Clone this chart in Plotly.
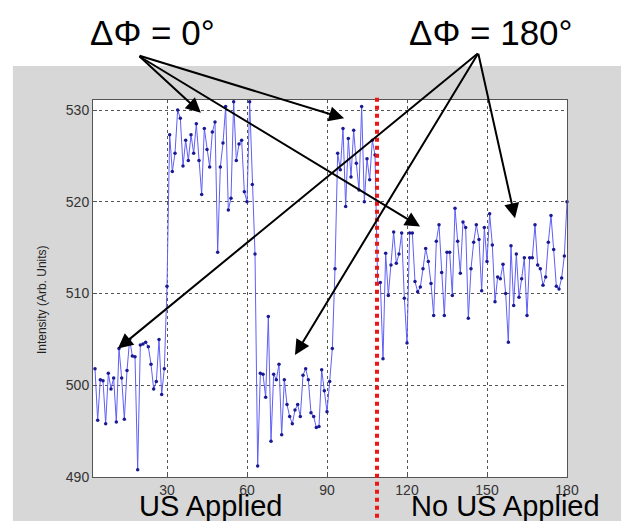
import plotly.graph_objects as go

# ---- data ----
x_start = 3
intensity = [
    501.8, 496.2, 500.6, 500.5, 495.8, 501.3, 499.6, 500.8, 496.0, 504.0,
    500.8, 496.3, 501.6, 505.0, 503.2, 503.1, 490.8, 504.4, 504.5, 504.7,
    504.2, 502.3, 499.6, 500.4, 505.0, 499.0, 501.8,
    510.8, 527.3,
    523.3, 525.3, 530.0, 529.1, 523.9, 526.7, 524.5, 527.3, 525.3, 528.5,
    524.5, 520.8, 528.0, 525.7, 523.8, 527.6, 528.7, 514.5, 523.8, 526.4,
    530.4, 519.1, 520.4, 530.9, 524.5, 526.3, 526.7, 521.1, 520.0,
    530.9, 521.9, 514.3, 491.2, 501.3, 501.2, 498.7, 507.5, 493.9, 501.2,
    500.6, 502.3, 494.6, 500.6, 497.9, 496.6, 495.8, 497.3, 497.9, 496.6,
    501.1, 501.8, 500.6, 497.0, 496.6, 495.4, 495.5, 501.7, 499.4, 497.1,
    500.4, 504.0, 512.7, 525.3, 523.5, 528.0, 519.5, 526.9, 522.7, 527.8,
    524.2, 521.3, 530.4, 520.0, 524.7, 522.4, 526.7, 525.1,
    511.1, 511.2, 502.9, 514.4, 509.8, 513.1, 516.7, 513.3, 514.3, 516.6,
    509.5, 504.6, 516.6, 516.6, 511.3, 510.2, 510.7, 512.7, 514.9, 513.5,
    511.1, 507.6, 515.7, 517.5, 512.3, 507.6, 514.5, 514.5, 509.8, 519.3,
    515.7, 512.2, 517.8, 517.2, 507.3, 512.7, 515.6, 517.5, 515.9, 510.3,
    517.2, 513.5, 518.7, 515.3, 509.1, 511.8, 511.6, 513.2, 510.0, 504.7,
    515.2, 508.7, 514.3, 509.6, 511.6, 513.9, 507.6, 513.9, 513.9, 517.5,
    513.1, 512.7, 510.9, 511.8, 515.6, 518.5, 514.8, 510.8, 510.5, 511.7,
    514.1, 520.0,
]
time = list(range(x_start, x_start + len(intensity)))

x_ticks = [30, 60, 90, 120, 150, 180]
y_ticks = [490, 500, 510, 520, 530]
x_range = [2.25, 180]
y_range = [490, 531.1]
switch_x = 108.75  # US on / off boundary

label_phase0 = "ΔΦ = 0°"
label_phase180 = "ΔΦ = 180°"
label_us = "US Applied"
label_nous = "No US Applied"
y_title = "Intensity (Arb. Units)"

# arrow heads (data coords) and tail offsets (pixels)
arrows_phase0 = [(42.7, 529.7, -63, -58), (96.4, 529.1, -206, -63), (124.9, 517.3, -282, -171)]
arrows_phase180 = [(11.6, 504.0, 361, -296), (78.0, 503.3, 184, -303), (160.5, 518.2, -37, -166)]

FONT = "Liberation Sans, Arial, sans-serif"

fig = go.Figure()
fig.add_trace(go.Scatter(
    x=time, y=intensity, mode="lines+markers",
    line=dict(color="rgb(95,95,245)", width=1),
    marker=dict(size=3.5, color="rgb(25,25,150)"),
    showlegend=False, hoverinfo="skip", cliponaxis=False,
))

shapes = [
    # grey panel
    dict(type="rect", xref="paper", yref="paper", x0=-0.169, x1=1.1245, y0=-0.2, y1=1.09,
         fillcolor="#d7d7d7", line=dict(width=0), layer="below"),
    # white plotting area
    dict(type="rect", xref="paper", yref="paper", x0=0, x1=1, y0=0, y1=1,
         fillcolor="white", line=dict(width=0), layer="below"),
    # red dotted boundary line
    dict(type="line", xref="x", yref="paper", x0=switch_x, x1=switch_x, y0=1.006, y1=-0.15,
         line=dict(color="rgb(240,20,20)", width=4, dash="4px,4px")),
]

annotations = [
    dict(text=label_phase0, xref="paper", yref="paper", x=0.1245, y=1.18, showarrow=False,
         xanchor="center", yanchor="middle", font=dict(family=FONT, size=35, color="black")),
    dict(text=label_phase180, xref="paper", yref="paper", x=0.8397, y=1.18, showarrow=False,
         xanchor="center", yanchor="middle", font=dict(family=FONT, size=35, color="black")),
    dict(text=label_us, xref="paper", yref="paper", x=0.249, y=-0.076, showarrow=False,
         xanchor="center", yanchor="middle", font=dict(family=FONT, size=29, color="black")),
    dict(text=label_nous, xref="paper", yref="paper", x=0.870, y=-0.076, showarrow=False,
         xanchor="center", yanchor="middle", font=dict(family=FONT, size=29, color="black")),
    dict(text=y_title, xref="paper", yref="paper", x=-0.107, y=0.47, showarrow=False,
         textangle=-90, xanchor="center", yanchor="middle",
         font=dict(family=FONT, size=12, color="#222")),
]
for hx, hy, ax, ay in arrows_phase0 + arrows_phase180:
    annotations.append(dict(
        x=hx, y=hy, xref="x", yref="y", ax=ax, ay=ay, axref="pixel", ayref="pixel",
        text="", showarrow=True, arrowhead=2, arrowsize=1.5, arrowwidth=2,
        arrowcolor="black", standoff=0,
    ))

axis_common = dict(
    showgrid=True, gridcolor="#555", griddash="dot", gridwidth=1,
    showline=True, linecolor="#555", linewidth=1, mirror=True,
    ticks="inside", ticklen=4, tickcolor="#555", zeroline=False,
    tickfont=dict(family=FONT, size=14, color="#333"),
)

# the page adds an 8px body margin, so the figure is laid out 8px up/left
fig.update_layout(
    width=629, height=521,
    margin=dict(l=85, r=70, t=92, b=52),
    paper_bgcolor="white", plot_bgcolor="white",
    xaxis=dict(range=x_range, tickvals=x_ticks, **axis_common),
    yaxis=dict(range=y_range, tickvals=y_ticks, **axis_common),
    shapes=shapes, annotations=annotations,
)

fig.write_html("out.html")
